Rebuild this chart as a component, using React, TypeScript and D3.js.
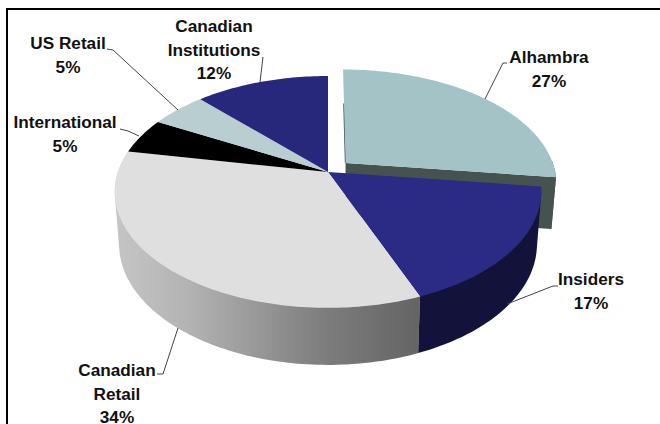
import * as d3 from "d3";

const categories = ["Alhambra", "Insiders", "Canadian Retail", "International", "US Retail", "Canadian Institutions"];
const shares = [27, 17, 34, 5, 5, 12];
const topColors = ["#a3c3c6", "#2b2b85", "#dfdfdf", "#000000", "#b9ced1", "#27277c"];

const labelLines = [["Alhambra", "27%"], ["Insiders", "17%"], ["Canadian", "Retail", "34%"], ["International", "5%"], ["US Retail", "5%"], ["Canadian", "Institutions", "12%"]];
const labelX = [549, 591, 117, 65, 68, 214];
const labelY = [63, 285, 376, 128, 49, 32];
const leaders = [
  [[507, 63], [503, 63], [485, 99]],
  [[558, 286], [553, 286], [507, 304]],
  [[157, 374], [163, 374], [178, 328]],
  [[120, 129], [128, 131], [139, 136]],
  [[107, 49], [113, 50], [178, 110]],
  [[263, 57], [260, 82]],
];

// perspective of the disc: apex sits above the middle of the ellipse
const cx = 328, cy = 172, rx = 210, ry = 112.5, k = 0.172;
const depth = 51.6, bottomSx = 0.98, bottomSy = 1.04;
const explode: [number, number] = [0.085, -0.08];

type Pt = [number, number];

function project(u: number, v: number): Pt {
  const w = 1 - k * v;
  return [cx + (rx * u) / w, cy + (ry * v) / w];
}

function top(angle: number, r = 1, off: Pt = [0, 0]): Pt {
  return project(r * Math.sin(angle) + off[0], -r * Math.cos(angle) + off[1]);
}

function bottom(angle: number, r = 1, off: Pt = [0, 0]): Pt {
  const [x, y] = top(angle, r, off);
  return [cx + (x - cx) * bottomSx, cy + depth + (y - cy) * bottomSy];
}

function arcPts(fn: (a: number, r?: number, off?: Pt) => Pt, a0: number, a1: number, off: Pt = [0, 0]): Pt[] {
  const n = Math.max(2, Math.ceil(Math.abs(a1 - a0) / 0.02));
  return d3.range(n + 1).map((i) => fn(a0 + ((a1 - a0) * i) / n, 1, off));
}

const line = d3.line<Pt>().x((d) => d[0]).y((d) => d[1]);
const closed = (pts: Pt[]) => line(pts) + "Z";

const slices = d3.pie<number>().sort(null).value((d) => d)(shares);

export default function App() {
  const [alh, ins, ret] = slices;
  const off = explode;
  const topFace = (s: d3.PieArcDatum<number>, o: Pt = [0, 0]) =>
    closed([top(0, 0, o), ...arcPts(top, s.startAngle, s.endAngle, o)]);
  // hull so the rim follows the tangent between the two discs
  const sideFace = (a0: number, a1: number, o: Pt = [0, 0]) =>
    closed(d3.polygonHull([...arcPts(top, a0, a1, o), ...arcPts(bottom, a1, a0, o)]) as Pt[]);

  return (
    <svg width={660} height={424} style={{ position: "absolute", left: 0, top: 0, background: "#fff" }}>
      <defs>
        <linearGradient id="retail-side" gradientUnits="userSpaceOnUse" x1={114} y1={0} x2={420} y2={0}>
          <stop offset="0%" stopColor="#c6c6c6" />
          <stop offset="25%" stopColor="#b2b2b2" />
          <stop offset="70%" stopColor="#7c7c7c" />
          <stop offset="100%" stopColor="#646464" />
        </linearGradient>
      </defs>

      {/* frame */}
      <line x1={6} y1={9} x2={660} y2={9} stroke="#000" strokeWidth={2} />
      <line x1={7} y1={8} x2={7} y2={424} stroke="#000" strokeWidth={2} />

      {/* exploded slice: cut face and rim first */}
      <path d={closed([top(alh.endAngle, 0, off), top(alh.endAngle, 1, off), bottom(alh.endAngle, 1, off), bottom(alh.endAngle, 0, off)])} fill="#45524f" />
      <path d={sideFace(alh.endAngle - 0.15, alh.endAngle, off)} fill="#45524f" />
      <path d={line([top(0, 0.6, off), top(0, 0, off)]) ?? ""} stroke="#45524f" strokeWidth={1.5} fill="none" />
      <path d={topFace(alh, off)} fill={topColors[0]} />

      <path d={sideFace(ret.startAngle, ret.endAngle)} fill="url(#retail-side)" />
      <path d={sideFace(ins.startAngle, ins.endAngle)} fill="#12123a" />

      {slices.slice(1).map((s, i) => (
        <path key={categories[i + 1]} d={topFace(s)} fill={topColors[i + 1]} />
      ))}

      {leaders.map((pts, i) => (
        <path key={i} d={line(pts as Pt[]) ?? ""} fill="none" stroke="#444" strokeWidth={1} />
      ))}

      {labelLines.map((lines, i) => (
        <text key={i} textAnchor="middle" fontFamily="'Liberation Sans', Arial, sans-serif" fontWeight={700} fontSize={17.2} fill="#111">
          {lines.map((t, j) => (
            <tspan key={j} x={labelX[i]} y={labelY[i] + j * 23.6}>{t}</tspan>
          ))}
        </text>
      ))}
    </svg>
  );
}
